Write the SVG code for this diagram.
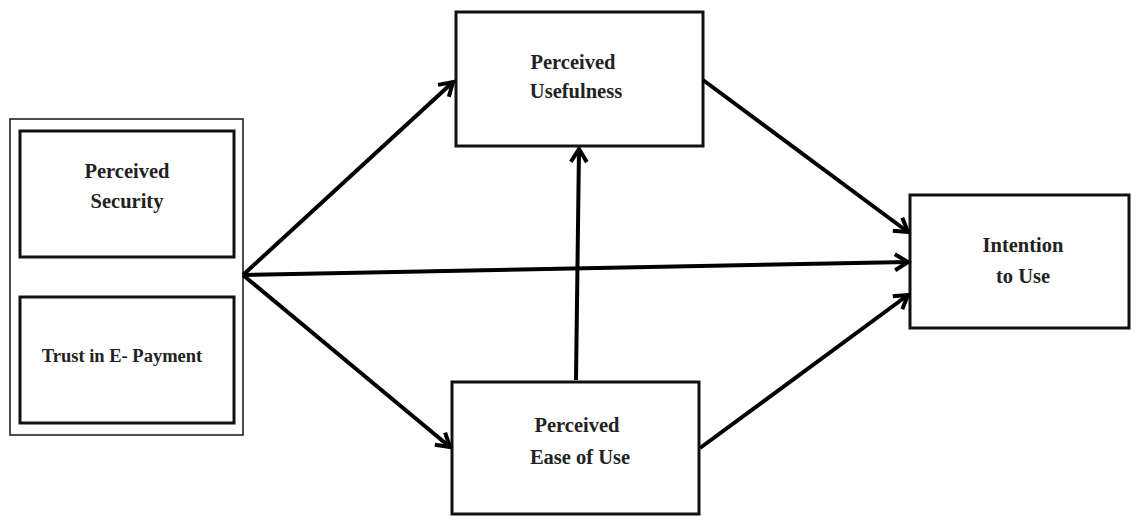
<svg xmlns="http://www.w3.org/2000/svg" width="1131" height="516" viewBox="0 0 1131 516">
<style>
.box{fill:#fff;stroke:#111;stroke-width:3}
.outer{fill:#fff;stroke:#222;stroke-width:1.6}
.lbl{font-family:"Liberation Serif","Times New Roman",serif;font-weight:bold;font-size:20.5px;fill:#222;text-anchor:middle}
.sm{font-size:18.5px}
.conn{stroke:#000;stroke-width:4;fill:none;marker-end:url(#ah)}
</style>
<defs>
<marker id="ah" markerUnits="userSpaceOnUse" viewBox="-16 -10 20 20" refX="0" refY="0" markerWidth="20" markerHeight="20" orient="auto">
<path d="M-13,-8 L0,0 L-13,8" fill="none" stroke="#000" stroke-width="4" stroke-linejoin="miter"/>
</marker>
</defs>
<rect width="1131" height="516" fill="#fff"/>
<g id="source-group">
<rect class="outer" x="10" y="119" width="233" height="316"/>
<g id="perceived-security">
<rect class="box" x="20" y="131" width="214" height="126"/>
<text class="lbl" x="127" y="178">Perceived</text>
<text class="lbl" x="127" y="208">Security</text>
</g>
<g id="trust-epayment">
<rect class="box" x="20" y="297" width="214" height="126"/>
<text class="lbl sm" x="122" y="362">Trust in E- Payment</text>
</g>
</g>
<g id="perceived-usefulness">
<rect class="box" x="456" y="12" width="247" height="134"/>
<text class="lbl" x="573" y="69">Perceived</text>
<text class="lbl" x="576" y="98">Usefulness</text>
</g>
<g id="perceived-ease">
<rect class="box" x="452" y="382" width="247" height="132"/>
<text class="lbl" x="577" y="432">Perceived</text>
<text class="lbl" x="580" y="464">Ease of Use</text>
</g>
<g id="intention">
<rect class="box" x="910" y="195" width="219" height="133"/>
<text class="lbl" x="1023" y="252">Intention</text>
<text class="lbl" x="1023" y="283">to Use</text>
</g>
<g id="connectors">
<path class="conn" d="M243,275 L453,82"/>
<path class="conn" d="M243,275 L908,262"/>
<path class="conn" d="M243,275 L450,447"/>
<path class="conn" d="M576,380 L579,149"/>
<path class="conn" d="M703,80 L908,232"/>
<path class="conn" d="M700,448 L908,295"/>
</g>
</svg>
